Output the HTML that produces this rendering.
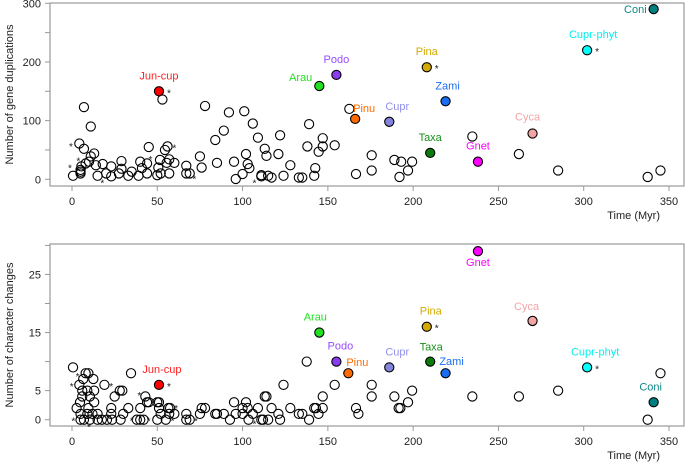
<!DOCTYPE html>
<html><head><meta charset="utf-8"><style>
html,body{margin:0;padding:0;background:#fff;}
svg{display:block;font-family:"Liberation Sans",Arial,sans-serif;}
</style></head><body>
<svg id="chart" width="685" height="465" viewBox="0 0 685 465" xmlns="http://www.w3.org/2000/svg"></svg>
<script>
// ---- data ----
const topOpenX=[4.3,7,7,11,0.6,5,5,5,5.5,8,10,13,11,14,15,18,20,23,23,27.5,29,29,33,35,39,40,41,44,44,45,50,50.6,51.6,52,53,54.5,55.5,56,57,57,60,67,67,69,75,76,78,84,85,89,92,95,96,100,101,102,103,104,106,109,111,111,113,114,115,117,122,121,124,128,133,135,138,139,142,142.6,144.6,147,147,154,162.6,166.5,175.7,175.7,189,193,199.4,197,192,234.7,262,285,337.5,345];
const topOpenY=[61,52,123,90,6,10,16,13,22,27,30,44,39,24,6,26,10,22,5,10,31,18,6,13,6,30,19,10,27,55,7,20,33,10,136,50,28,56,10,34,28,23,10,10,39,20,125,67,28,83,114,30,0.5,9,116,43,26,19,95,71,5,7,52,40,6,3,75,43,6,24,3,3,56,94,6,19,47,56,70,58,120,9,41,15,33,30,30,15,4,73,43,15,4,15];
const botOpenX=[0.6,4.3,8,9.6,6.6,12.5,6,9,13,6,10.5,4.7,13,2.7,9.6,5,9,12,15,5,7,10.5,15,17.5,20.5,23.5,19,23,23,25,28,29.5,30,28.5,33,34.6,38,40,42,40,43,44,45,50,51,51,50,52,55,56.5,57.5,57,60,67,67,69,75,76,78,84,85,89,92.6,95,96,100,100,102,103,103.5,106,109,111,112,113,114,115,117,121,122,124,128,133,135,137.6,139,142,143,144.5,147,147,154,175.7,175.7,166.5,167.9,189,191.5,192.5,197,199.4,234.7,262,285,337.5,345];
const botOpenY=[9,6,8,8,7,7,5,5,5,4,4,3,3,2,2,1,1,1,1,0,0,0,0,0,0,0,6,2,1,4,5,5,1,0,2,8,0,0,0,2,4,3,3,3,3,2,0,1,0,2,2,1,1,1,0,0,1,2,2,1,1,1,0,3,1,1,2,3,2,0,1,2,0,0,4,4,0,2,1,0,6,2,1,1,10,0,2,2,1,4,2,6,6,4,2,1,4,2,2,3,5,4,4,5,0,8];
const taxa=["Jun-cup","Arau","Podo","Pinu","Cupr","Pina","Zami","Taxa","Gnet","Cyca","Cupr-phyt","Coni"];
const taxaX=[51,145,155,166,186,208,219,210,238,270,302,341];
const taxaTopY=[150,159,178,103,98,191,133,45,30,78,220,290];
const taxaBotX=[51,145,155,162,186,208,219,210,238,270,302,341];
const taxaBotY=[6,15,10,8,9,16,8,10,29,17,9,3];
const topStarX=[-0.6,-1.2,3.7,17.8,46,60,71.7,107];
const topStarY=[58.5,21.6,34,-4,36,56,3,-4];
const botStarX=[3.3,-0.2,23,39.5,0.8,10,35,45,61,59,72.7,107];
const botStarY=[7.7,6,6,4.4,0,-1,0,0,2.2,0,0,-0.5];
const starredTaxa=["Jun-cup","Pina","Cupr-phyt"];
const xTicks=[0,50,100,150,200,250,300,350];
const topYTicks=[0,50,100,150,200,250,300];
const topYLabels=["0","","100","","200","","300"];
const botYTicks=[0,5,10,15,20,25,30];
const botYLabels=["0","5","","15","","25",""];
// ---- styles ----
const fillCol=["#ff0000","#22e022","#8a3cf0","#ff6a00","#8484dc","#d4aa00","#1a6cf0","#0a7a0a","#ff00ff","#f4a4a4","#00ffff","#008080"];
const labCol=["#ff2020","#22e022","#9a4cff","#ff6a00","#9090e8","#d4aa00","#1a6cf0","#1a8f1a","#ff00ff","#f4a4a4","#00f0f0","#108888"];
const topLab=[[0,-12,"middle"],[-7,-5,"end"],[0,-12,"middle"],[-2,-7,"start"],[8,-12,"middle"],[0,-12,"middle"],[2,-12,"middle"],[0,-12,"middle"],[0,-12,"middle"],[-5,-13,"middle"],[6,-12,"middle"],[-7,4,"end"]];
const botLab=[[3,-12,"middle"],[-4,-12,"middle"],[4,-12,"middle"],[-2,-7,"start"],[8,-12,"middle"],[4,-12,"middle"],[6,-8,"middle"],[1,-11,"middle"],[0,15,"middle"],[-6,-11,"middle"],[8,-12,"middle"],[-3,-12,"middle"]];
const NS="http://www.w3.org/2000/svg";
const svg=document.getElementById("chart");
function el(tag,attrs,parent){const e=document.createElementNS(NS,tag);for(const k in attrs)e.setAttribute(k,attrs[k]);(parent||svg).appendChild(e);return e;}
const sx=v=>72+v*1.7057;
function panel(cfg){
  const g=el("g",{});
  
  
  const sy=v=>cfg.y0-(v-0)*cfg.k;
  const fr=el("rect",{x:50,y:cfg.top,width:634,height:cfg.bot-cfg.top,fill:"none",stroke:"#999","stroke-width":1.2},g);
  
  
  xTicks.forEach(t=>{
    el("line",{x1:sx(t),x2:sx(t),y1:cfg.bot,y2:cfg.bot+5,stroke:"#999"},g);
    const tx=el("text",{x:sx(t),y:cfg.bot+19,"font-size":11,"text-anchor":"middle",fill:"#222"},g);
    tx.textContent=t;
    
    
  });
  cfg.yt.forEach((t,i)=>{
    el("line",{x1:45,x2:50,y1:sy(t),y2:sy(t),stroke:"#999"},g);
    if(cfg.yl[i]){const tx=el("text",{x:41,y:sy(t)+4,"font-size":11,"text-anchor":"end",fill:"#222"},g);tx.textContent=cfg.yl[i];
    
    }
  });
  const xt=el("text",{x:660,y:cfg.bot+33,"font-size":11,"text-anchor":"end",fill:"#222"},g);
  xt.textContent="Time (Myr)";
  
  
  const cy=(cfg.top+cfg.bot)/2;
  const yt=el("text",{x:0,y:0,"font-size":11,"text-anchor":"middle",fill:"#222",transform:`translate(13,${cy}) rotate(-90)`},g);
  yt.textContent=cfg.ytitle;
  
  
  cfg.ox.forEach((x,i)=>{
    const c=el("circle",{cx:sx(x),cy:sy(cfg.oy[i]),r:4.6,fill:"none",stroke:"#000","stroke-width":1.1},g);
    
    
  });
  cfg.sxs.forEach((x,i)=>{
    const s=el("text",{x:sx(x),y:sy(cfg.sys[i])+5,"font-size":10,"text-anchor":"middle",fill:"#222"},g);
    s.textContent="*";
    
    
  });
  taxa.forEach((name,i)=>{
    const px=sx(cfg.tx[i]),py=sy(cfg.ty[i]);
    const c=el("circle",{cx:px,cy:py,r:4.6,fill:fillCol[i],stroke:"#000","stroke-width":1.1},g);
    
    
    const L=cfg.lab[i];
    const t=el("text",{x:px+L[0],y:py+L[1],"font-size":11,"text-anchor":L[2],fill:labCol[i]},g);
    t.textContent=name;
    
    
    if(starredTaxa.includes(name)){
      const s=el("text",{x:px+8,y:py+5,"font-size":10,fill:"#222"},g);
      s.textContent="*";
      
      
    }
  });
}
panel({name:"gene-duplications-panel",top:3,bot:186,y0:179.3,k:0.5867,yt:topYTicks,yl:topYLabels,ytitle:"Number of gene duplications",ox:topOpenX,oy:topOpenY,sxs:topStarX,sys:topStarY,tx:taxaX,ty:taxaTopY,lab:topLab});
panel({name:"character-changes-panel",top:244,bot:426,y0:419.7,k:5.81,yt:botYTicks,yl:botYLabels,ytitle:"Number of character changes",ox:botOpenX,oy:botOpenY,sxs:botStarX,sys:botStarY,tx:taxaBotX,ty:taxaBotY,lab:botLab});
</script>
</body></html>
